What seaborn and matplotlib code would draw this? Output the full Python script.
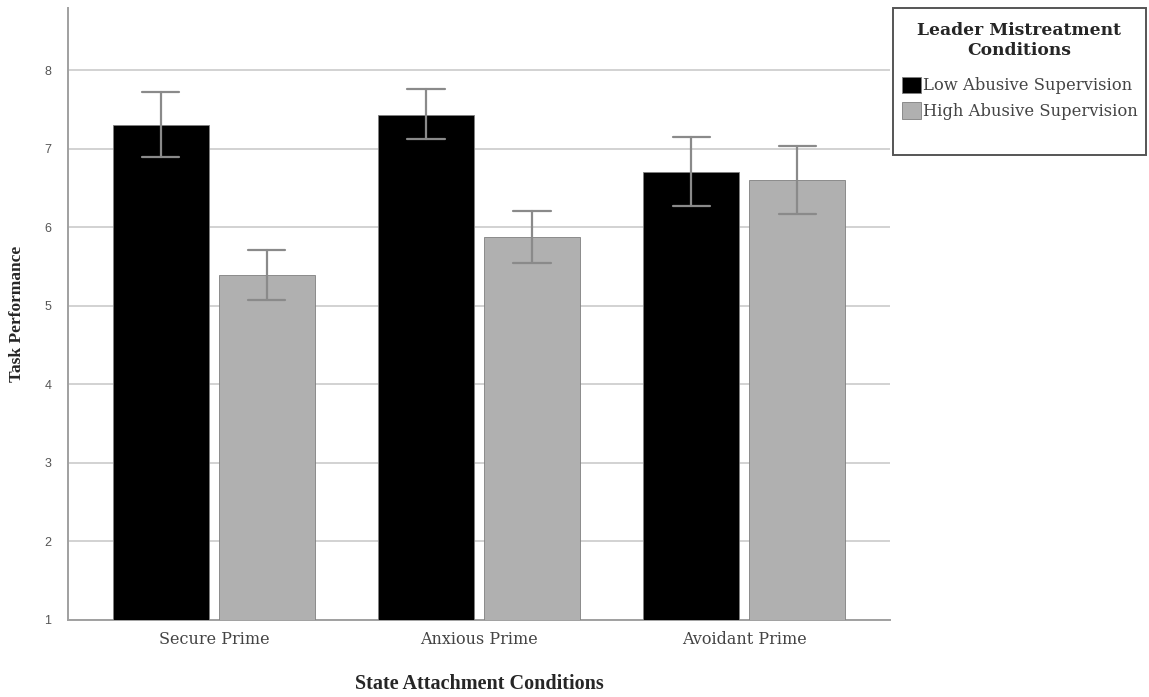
import pandas as pd
import numpy as np
import matplotlib
matplotlib.use("Agg")
import matplotlib.pyplot as plt
import seaborn as sns
from matplotlib.patches import Rectangle

# values
primes = ["Secure Prime", "Anxious Prime", "Avoidant Prime"]
conditions = ["Low Abusive Supervision", "High Abusive Supervision"]
low_mean = [7.30, 7.43, 6.70]
low_lo = [6.89, 7.12, 6.27]
low_hi = [7.72, 7.76, 7.15]
high_mean = [5.39, 5.87, 6.60]
high_lo = [5.07, 5.54, 6.17]
high_hi = [5.71, 6.21, 7.03]

# long table: lower bound, mean, upper bound per cell -> median = mean, min/max = error bar
rows = []
for i, p in enumerate(primes):
    for cond, m, lo, hi in [(conditions[0], low_mean, low_lo, low_hi),
                            (conditions[1], high_mean, high_lo, high_hi)]:
        for v in (lo[i], m[i], hi[i]):
            rows.append({"prime": p, "cond": cond, "score": v})
df = pd.DataFrame(rows)

sns.set_style("white")
plt.rcParams["font.family"] = ["Liberation Serif", "DejaVu Serif"]

W, H = 1149, 697
fig = plt.figure(figsize=(W / 100, H / 100), dpi=100)
ax = fig.add_axes([0.0592, 0.1105, 0.7154, 0.878])

sns.barplot(data=df, x="prime", y="score", hue="cond", order=primes,
            hue_order=conditions, palette=["#000000", "#b0b0b0"],
            estimator="median", errorbar=("pi", 100), width=0.8, gap=0.1,
            capsize=0.28,
            err_kws={"color": "#8a8a8a", "linewidth": 1.6, "zorder": 5},
            linewidth=0.6, edgecolor="#7f7f7f", ax=ax, zorder=3)

ax.set_ylim(1, 8.79)
ax.set_xlim(-0.55, 2.55)
ax.set_yticks(range(1, 9))
ax.yaxis.grid(True, color="#d2d2d2", linewidth=1.4, zorder=0)
ax.set_axisbelow(True)
for s in ["top", "right"]:
    ax.spines[s].set_visible(False)
for s in ["left", "bottom"]:
    ax.spines[s].set_color("#a0a0a0")
    ax.spines[s].set_linewidth(1.4)

ax.tick_params(axis="x", length=0, pad=8, labelcolor="#444444")
ax.tick_params(axis="y", length=0, pad=12, labelsize=9, labelcolor="#555555")
for t in ax.get_xticklabels():
    t.set_fontfamily(["DejaVu Serif"])
    t.set_fontsize(11.5)
for t in ax.get_yticklabels():
    t.set_fontfamily(["Liberation Sans", "DejaVu Sans"])

ax.set_xlabel("State Attachment Conditions", fontsize=14.5, fontweight="bold", labelpad=19)
ax.set_ylabel("Task Performance", fontsize=12.5, fontweight="bold", labelpad=14)

# legend frame drawn separately so it can keep the tall box of the original
fig.patches.append(Rectangle((893 / W, 1 - 155 / H), 253 / W, 147 / H,
                             transform=fig.transFigure, facecolor="white",
                             edgecolor="#555555", linewidth=1.4, zorder=-1))

leg = ax.legend(title="Leader Mistreatment\nConditions", loc="upper center",
                bbox_to_anchor=(1019.5 / W, 1 - 17 / H), bbox_transform=fig.transFigure,
                prop={"family": "DejaVu Serif", "size": 11.8},
                title_fontproperties={"family": "DejaVu Serif", "weight": "bold", "size": 12.3},
                frameon=False, handlelength=1.15, handleheight=1.15, handletextpad=0.12,
                borderpad=0.3, borderaxespad=0, labelspacing=0.5)
leg.get_title().set_multialignment("center")
leg._legend_box.align = "center"
leg._legend_box.sep = 13
for t in leg.get_texts():
    t.set_color("#444444")

fig.savefig("out.png", dpi=100)
